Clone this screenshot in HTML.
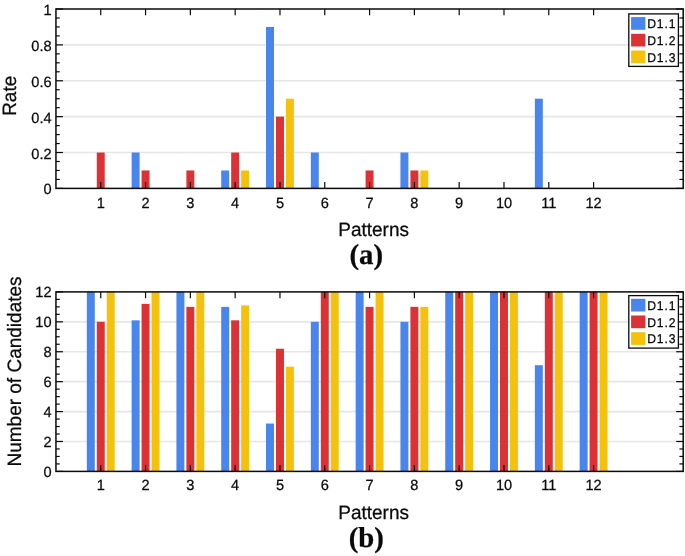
<!DOCTYPE html>
<html><head><meta charset="utf-8"><title>chart</title>
<style>
html,body{margin:0;padding:0;background:#fff;}
body{width:685px;height:556px;overflow:hidden;font-family:"Liberation Sans",sans-serif;}
svg{display:block;filter:blur(0.3px);}
svg text{font-family:"Liberation Sans",sans-serif;fill:#0a0a0a;stroke:#0a0a0a;stroke-width:0.25px;text-rendering:geometricPrecision;}
svg text.sf{font-family:"Liberation Serif",serif;}
</style></head><body>
<svg width="685" height="556" viewBox="0 0 685 556">
<rect width="685" height="556" fill="#fff"/>
<line x1="55.95" x2="683.2" y1="152.52" y2="152.52" stroke="#e6e6e6" stroke-width="1.7"/>
<line x1="55.95" x2="683.2" y1="116.64" y2="116.64" stroke="#e6e6e6" stroke-width="1.7"/>
<line x1="55.95" x2="683.2" y1="80.76" y2="80.76" stroke="#e6e6e6" stroke-width="1.7"/>
<line x1="55.95" x2="683.2" y1="44.88" y2="44.88" stroke="#e6e6e6" stroke-width="1.7"/>
<rect x="96.77" y="152.52" width="7.97" height="35.88" fill="#db3236"/>
<rect x="131.62" y="152.52" width="7.97" height="35.88" fill="#4885ed"/>
<rect x="141.57" y="170.46" width="7.97" height="17.94" fill="#db3236"/>
<rect x="186.38" y="170.46" width="7.97" height="17.94" fill="#db3236"/>
<rect x="221.23" y="170.46" width="7.97" height="17.94" fill="#4885ed"/>
<rect x="231.18" y="152.52" width="7.97" height="35.88" fill="#db3236"/>
<rect x="241.14" y="170.46" width="7.97" height="17.94" fill="#f4c20d"/>
<rect x="266.03" y="26.94" width="7.97" height="161.46" fill="#4885ed"/>
<rect x="275.99" y="116.64" width="7.97" height="71.76" fill="#db3236"/>
<rect x="285.94" y="98.7" width="7.97" height="89.7" fill="#f4c20d"/>
<rect x="310.83" y="152.52" width="7.97" height="35.88" fill="#4885ed"/>
<rect x="365.59" y="170.46" width="7.97" height="17.94" fill="#db3236"/>
<rect x="400.44" y="152.52" width="7.97" height="35.88" fill="#4885ed"/>
<rect x="410.4" y="170.46" width="7.97" height="17.94" fill="#db3236"/>
<rect x="420.35" y="170.46" width="7.97" height="17.94" fill="#f4c20d"/>
<rect x="534.85" y="98.7" width="7.97" height="89.7" fill="#4885ed"/>
<rect x="55.95" y="9" width="627.25" height="179.4" fill="none" stroke="#0a0a0a" stroke-width="1.5"/>
<line x1="100.75" x2="100.75" y1="188.4" y2="182.1" stroke="#0a0a0a" stroke-width="1.2"/>
<line x1="100.75" x2="100.75" y1="9" y2="15.3" stroke="#0a0a0a" stroke-width="1.2"/>
<text transform="translate(100.75,207.7) rotate(0.02) scale(1,1.015)" font-size="14.6" text-anchor="middle">1</text>
<line x1="145.56" x2="145.56" y1="188.4" y2="182.1" stroke="#0a0a0a" stroke-width="1.2"/>
<line x1="145.56" x2="145.56" y1="9" y2="15.3" stroke="#0a0a0a" stroke-width="1.2"/>
<text transform="translate(145.56,207.7) rotate(0.02) scale(1,1.015)" font-size="14.6" text-anchor="middle">2</text>
<line x1="190.36" x2="190.36" y1="188.4" y2="182.1" stroke="#0a0a0a" stroke-width="1.2"/>
<line x1="190.36" x2="190.36" y1="9" y2="15.3" stroke="#0a0a0a" stroke-width="1.2"/>
<text transform="translate(190.36,207.7) rotate(0.02) scale(1,1.015)" font-size="14.6" text-anchor="middle">3</text>
<line x1="235.16" x2="235.16" y1="188.4" y2="182.1" stroke="#0a0a0a" stroke-width="1.2"/>
<line x1="235.16" x2="235.16" y1="9" y2="15.3" stroke="#0a0a0a" stroke-width="1.2"/>
<text transform="translate(235.16,207.7) rotate(0.02) scale(1,1.015)" font-size="14.6" text-anchor="middle">4</text>
<line x1="279.97" x2="279.97" y1="188.4" y2="182.1" stroke="#0a0a0a" stroke-width="1.2"/>
<line x1="279.97" x2="279.97" y1="9" y2="15.3" stroke="#0a0a0a" stroke-width="1.2"/>
<text transform="translate(279.97,207.7) rotate(0.02) scale(1,1.015)" font-size="14.6" text-anchor="middle">5</text>
<line x1="324.77" x2="324.77" y1="188.4" y2="182.1" stroke="#0a0a0a" stroke-width="1.2"/>
<line x1="324.77" x2="324.77" y1="9" y2="15.3" stroke="#0a0a0a" stroke-width="1.2"/>
<text transform="translate(324.77,207.7) rotate(0.02) scale(1,1.015)" font-size="14.6" text-anchor="middle">6</text>
<line x1="369.57" x2="369.57" y1="188.4" y2="182.1" stroke="#0a0a0a" stroke-width="1.2"/>
<line x1="369.57" x2="369.57" y1="9" y2="15.3" stroke="#0a0a0a" stroke-width="1.2"/>
<text transform="translate(369.57,207.7) rotate(0.02) scale(1,1.015)" font-size="14.6" text-anchor="middle">7</text>
<line x1="414.38" x2="414.38" y1="188.4" y2="182.1" stroke="#0a0a0a" stroke-width="1.2"/>
<line x1="414.38" x2="414.38" y1="9" y2="15.3" stroke="#0a0a0a" stroke-width="1.2"/>
<text transform="translate(414.38,207.7) rotate(0.02) scale(1,1.015)" font-size="14.6" text-anchor="middle">8</text>
<line x1="459.18" x2="459.18" y1="188.4" y2="182.1" stroke="#0a0a0a" stroke-width="1.2"/>
<line x1="459.18" x2="459.18" y1="9" y2="15.3" stroke="#0a0a0a" stroke-width="1.2"/>
<text transform="translate(459.18,207.7) rotate(0.02) scale(1,1.015)" font-size="14.6" text-anchor="middle">9</text>
<line x1="503.99" x2="503.99" y1="188.4" y2="182.1" stroke="#0a0a0a" stroke-width="1.2"/>
<line x1="503.99" x2="503.99" y1="9" y2="15.3" stroke="#0a0a0a" stroke-width="1.2"/>
<text transform="translate(503.99,207.7) rotate(0.02) scale(1,1.015)" font-size="14.6" text-anchor="middle">10</text>
<line x1="548.79" x2="548.79" y1="188.4" y2="182.1" stroke="#0a0a0a" stroke-width="1.2"/>
<line x1="548.79" x2="548.79" y1="9" y2="15.3" stroke="#0a0a0a" stroke-width="1.2"/>
<text transform="translate(548.79,207.7) rotate(0.02) scale(1,1.015)" font-size="14.6" text-anchor="middle">11</text>
<line x1="593.59" x2="593.59" y1="188.4" y2="182.1" stroke="#0a0a0a" stroke-width="1.2"/>
<line x1="593.59" x2="593.59" y1="9" y2="15.3" stroke="#0a0a0a" stroke-width="1.2"/>
<text transform="translate(593.59,207.7) rotate(0.02) scale(1,1.015)" font-size="14.6" text-anchor="middle">12</text>
<line x1="55.95" x2="62.95" y1="188.4" y2="188.4" stroke="#0a0a0a" stroke-width="1.2"/>
<line x1="683.2" x2="676.2" y1="188.4" y2="188.4" stroke="#0a0a0a" stroke-width="1.2"/>
<line x1="55.95" x2="59.75" y1="179.43" y2="179.43" stroke="#0a0a0a" stroke-width="1.2"/>
<line x1="683.2" x2="679.4" y1="179.43" y2="179.43" stroke="#0a0a0a" stroke-width="1.2"/>
<line x1="55.95" x2="59.75" y1="170.46" y2="170.46" stroke="#0a0a0a" stroke-width="1.2"/>
<line x1="683.2" x2="679.4" y1="170.46" y2="170.46" stroke="#0a0a0a" stroke-width="1.2"/>
<line x1="55.95" x2="59.75" y1="161.49" y2="161.49" stroke="#0a0a0a" stroke-width="1.2"/>
<line x1="683.2" x2="679.4" y1="161.49" y2="161.49" stroke="#0a0a0a" stroke-width="1.2"/>
<line x1="55.95" x2="62.95" y1="152.52" y2="152.52" stroke="#0a0a0a" stroke-width="1.2"/>
<line x1="683.2" x2="676.2" y1="152.52" y2="152.52" stroke="#0a0a0a" stroke-width="1.2"/>
<line x1="55.95" x2="59.75" y1="143.55" y2="143.55" stroke="#0a0a0a" stroke-width="1.2"/>
<line x1="683.2" x2="679.4" y1="143.55" y2="143.55" stroke="#0a0a0a" stroke-width="1.2"/>
<line x1="55.95" x2="59.75" y1="134.58" y2="134.58" stroke="#0a0a0a" stroke-width="1.2"/>
<line x1="683.2" x2="679.4" y1="134.58" y2="134.58" stroke="#0a0a0a" stroke-width="1.2"/>
<line x1="55.95" x2="59.75" y1="125.61" y2="125.61" stroke="#0a0a0a" stroke-width="1.2"/>
<line x1="683.2" x2="679.4" y1="125.61" y2="125.61" stroke="#0a0a0a" stroke-width="1.2"/>
<line x1="55.95" x2="62.95" y1="116.64" y2="116.64" stroke="#0a0a0a" stroke-width="1.2"/>
<line x1="683.2" x2="676.2" y1="116.64" y2="116.64" stroke="#0a0a0a" stroke-width="1.2"/>
<line x1="55.95" x2="59.75" y1="107.67" y2="107.67" stroke="#0a0a0a" stroke-width="1.2"/>
<line x1="683.2" x2="679.4" y1="107.67" y2="107.67" stroke="#0a0a0a" stroke-width="1.2"/>
<line x1="55.95" x2="59.75" y1="98.7" y2="98.7" stroke="#0a0a0a" stroke-width="1.2"/>
<line x1="683.2" x2="679.4" y1="98.7" y2="98.7" stroke="#0a0a0a" stroke-width="1.2"/>
<line x1="55.95" x2="59.75" y1="89.73" y2="89.73" stroke="#0a0a0a" stroke-width="1.2"/>
<line x1="683.2" x2="679.4" y1="89.73" y2="89.73" stroke="#0a0a0a" stroke-width="1.2"/>
<line x1="55.95" x2="62.95" y1="80.76" y2="80.76" stroke="#0a0a0a" stroke-width="1.2"/>
<line x1="683.2" x2="676.2" y1="80.76" y2="80.76" stroke="#0a0a0a" stroke-width="1.2"/>
<line x1="55.95" x2="59.75" y1="71.79" y2="71.79" stroke="#0a0a0a" stroke-width="1.2"/>
<line x1="683.2" x2="679.4" y1="71.79" y2="71.79" stroke="#0a0a0a" stroke-width="1.2"/>
<line x1="55.95" x2="59.75" y1="62.82" y2="62.82" stroke="#0a0a0a" stroke-width="1.2"/>
<line x1="683.2" x2="679.4" y1="62.82" y2="62.82" stroke="#0a0a0a" stroke-width="1.2"/>
<line x1="55.95" x2="59.75" y1="53.85" y2="53.85" stroke="#0a0a0a" stroke-width="1.2"/>
<line x1="683.2" x2="679.4" y1="53.85" y2="53.85" stroke="#0a0a0a" stroke-width="1.2"/>
<line x1="55.95" x2="62.95" y1="44.88" y2="44.88" stroke="#0a0a0a" stroke-width="1.2"/>
<line x1="683.2" x2="676.2" y1="44.88" y2="44.88" stroke="#0a0a0a" stroke-width="1.2"/>
<line x1="55.95" x2="59.75" y1="35.91" y2="35.91" stroke="#0a0a0a" stroke-width="1.2"/>
<line x1="683.2" x2="679.4" y1="35.91" y2="35.91" stroke="#0a0a0a" stroke-width="1.2"/>
<line x1="55.95" x2="59.75" y1="26.94" y2="26.94" stroke="#0a0a0a" stroke-width="1.2"/>
<line x1="683.2" x2="679.4" y1="26.94" y2="26.94" stroke="#0a0a0a" stroke-width="1.2"/>
<line x1="55.95" x2="59.75" y1="17.97" y2="17.97" stroke="#0a0a0a" stroke-width="1.2"/>
<line x1="683.2" x2="679.4" y1="17.97" y2="17.97" stroke="#0a0a0a" stroke-width="1.2"/>
<line x1="55.95" x2="62.95" y1="9" y2="9" stroke="#0a0a0a" stroke-width="1.2"/>
<line x1="683.2" x2="676.2" y1="9" y2="9" stroke="#0a0a0a" stroke-width="1.2"/>
<text transform="translate(51.6,194.45) rotate(0.02) scale(1,1.015)" font-size="14.6" text-anchor="end">0</text>
<text transform="translate(51.6,158.57) rotate(0.02) scale(1,1.015)" font-size="14.6" text-anchor="end">0.2</text>
<text transform="translate(51.6,122.69) rotate(0.02) scale(1,1.015)" font-size="14.6" text-anchor="end">0.4</text>
<text transform="translate(51.6,86.81) rotate(0.02) scale(1,1.015)" font-size="14.6" text-anchor="end">0.6</text>
<text transform="translate(51.6,50.93) rotate(0.02) scale(1,1.015)" font-size="14.6" text-anchor="end">0.8</text>
<text transform="translate(51.6,15.05) rotate(0.02) scale(1,1.015)" font-size="14.6" text-anchor="end">1</text>
<text transform="translate(16.1,95.8) rotate(-90) scale(1,1.02)" font-size="19" text-anchor="middle">Rate</text>
<text transform="translate(373.6,235.7) rotate(0.02) scale(1,1.02)" font-size="19" text-anchor="middle">Patterns</text>
<text transform="translate(366.3,263.6) rotate(0.02)" font-size="28.8" font-weight="bold" class="sf" text-anchor="middle">(a)</text>
<rect x="628.8" y="13.9" width="49.6" height="52.5" fill="#fff" stroke="#0a0a0a" stroke-width="1.3"/>
<rect x="631.1" y="17.1" width="14.3" height="12.7" fill="#4885ed"/>
<text transform="translate(647.2,28.2) rotate(0.02) scale(1,1.045)" font-size="12.2" letter-spacing="0.85">D1.1</text>
<rect x="631.1" y="33.8" width="14.3" height="12.7" fill="#db3236"/>
<text transform="translate(647.2,44.9) rotate(0.02) scale(1,1.045)" font-size="12.2" letter-spacing="0.85">D1.2</text>
<rect x="631.1" y="50.5" width="14.3" height="12.7" fill="#f4c20d"/>
<text transform="translate(647.2,61.6) rotate(0.02) scale(1,1.045)" font-size="12.2" letter-spacing="0.85">D1.3</text>
<line x1="55.95" x2="683.2" y1="441.48" y2="441.48" stroke="#e6e6e6" stroke-width="1.7"/>
<line x1="55.95" x2="683.2" y1="411.57" y2="411.57" stroke="#e6e6e6" stroke-width="1.7"/>
<line x1="55.95" x2="683.2" y1="381.65" y2="381.65" stroke="#e6e6e6" stroke-width="1.7"/>
<line x1="55.95" x2="683.2" y1="351.73" y2="351.73" stroke="#e6e6e6" stroke-width="1.7"/>
<line x1="55.95" x2="683.2" y1="321.82" y2="321.82" stroke="#e6e6e6" stroke-width="1.7"/>
<rect x="86.81" y="291.9" width="7.97" height="179.5" fill="#4885ed"/>
<rect x="96.77" y="321.82" width="7.97" height="149.58" fill="#db3236"/>
<rect x="106.73" y="291.9" width="7.97" height="179.5" fill="#f4c20d"/>
<rect x="131.62" y="320.32" width="7.97" height="151.08" fill="#4885ed"/>
<rect x="141.57" y="303.87" width="7.97" height="167.53" fill="#db3236"/>
<rect x="151.53" y="291.9" width="7.97" height="179.5" fill="#f4c20d"/>
<rect x="176.42" y="291.9" width="7.97" height="179.5" fill="#4885ed"/>
<rect x="186.38" y="306.86" width="7.97" height="164.54" fill="#db3236"/>
<rect x="196.33" y="291.9" width="7.97" height="179.5" fill="#f4c20d"/>
<rect x="221.23" y="306.86" width="7.97" height="164.54" fill="#4885ed"/>
<rect x="231.18" y="320.32" width="7.97" height="151.08" fill="#db3236"/>
<rect x="241.14" y="305.36" width="7.97" height="166.04" fill="#f4c20d"/>
<rect x="266.03" y="423.53" width="7.97" height="47.87" fill="#4885ed"/>
<rect x="275.99" y="348.74" width="7.97" height="122.66" fill="#db3236"/>
<rect x="285.94" y="366.69" width="7.97" height="104.71" fill="#f4c20d"/>
<rect x="310.83" y="321.82" width="7.97" height="149.58" fill="#4885ed"/>
<rect x="320.79" y="291.9" width="7.97" height="179.5" fill="#db3236"/>
<rect x="330.75" y="291.9" width="7.97" height="179.5" fill="#f4c20d"/>
<rect x="355.64" y="291.9" width="7.97" height="179.5" fill="#4885ed"/>
<rect x="365.59" y="306.86" width="7.97" height="164.54" fill="#db3236"/>
<rect x="375.55" y="291.9" width="7.97" height="179.5" fill="#f4c20d"/>
<rect x="400.44" y="321.82" width="7.97" height="149.58" fill="#4885ed"/>
<rect x="410.4" y="306.86" width="7.97" height="164.54" fill="#db3236"/>
<rect x="420.35" y="306.86" width="7.97" height="164.54" fill="#f4c20d"/>
<rect x="445.24" y="291.9" width="7.97" height="179.5" fill="#4885ed"/>
<rect x="455.2" y="291.9" width="7.97" height="179.5" fill="#db3236"/>
<rect x="465.16" y="291.9" width="7.97" height="179.5" fill="#f4c20d"/>
<rect x="490.05" y="291.9" width="7.97" height="179.5" fill="#4885ed"/>
<rect x="500" y="291.9" width="7.97" height="179.5" fill="#db3236"/>
<rect x="509.96" y="291.9" width="7.97" height="179.5" fill="#f4c20d"/>
<rect x="534.85" y="365.2" width="7.97" height="106.2" fill="#4885ed"/>
<rect x="544.81" y="291.9" width="7.97" height="179.5" fill="#db3236"/>
<rect x="554.76" y="291.9" width="7.97" height="179.5" fill="#f4c20d"/>
<rect x="579.65" y="291.9" width="7.97" height="179.5" fill="#4885ed"/>
<rect x="589.61" y="291.9" width="7.97" height="179.5" fill="#db3236"/>
<rect x="599.57" y="291.9" width="7.97" height="179.5" fill="#f4c20d"/>
<rect x="55.95" y="291.9" width="627.25" height="179.5" fill="none" stroke="#0a0a0a" stroke-width="1.5"/>
<line x1="100.75" x2="100.75" y1="471.4" y2="465.1" stroke="#0a0a0a" stroke-width="1.2"/>
<line x1="100.75" x2="100.75" y1="291.9" y2="298.2" stroke="#0a0a0a" stroke-width="1.2"/>
<text transform="translate(100.75,489.9) rotate(0.02) scale(1,1.015)" font-size="14.6" text-anchor="middle">1</text>
<line x1="145.56" x2="145.56" y1="471.4" y2="465.1" stroke="#0a0a0a" stroke-width="1.2"/>
<line x1="145.56" x2="145.56" y1="291.9" y2="298.2" stroke="#0a0a0a" stroke-width="1.2"/>
<text transform="translate(145.56,489.9) rotate(0.02) scale(1,1.015)" font-size="14.6" text-anchor="middle">2</text>
<line x1="190.36" x2="190.36" y1="471.4" y2="465.1" stroke="#0a0a0a" stroke-width="1.2"/>
<line x1="190.36" x2="190.36" y1="291.9" y2="298.2" stroke="#0a0a0a" stroke-width="1.2"/>
<text transform="translate(190.36,489.9) rotate(0.02) scale(1,1.015)" font-size="14.6" text-anchor="middle">3</text>
<line x1="235.16" x2="235.16" y1="471.4" y2="465.1" stroke="#0a0a0a" stroke-width="1.2"/>
<line x1="235.16" x2="235.16" y1="291.9" y2="298.2" stroke="#0a0a0a" stroke-width="1.2"/>
<text transform="translate(235.16,489.9) rotate(0.02) scale(1,1.015)" font-size="14.6" text-anchor="middle">4</text>
<line x1="279.97" x2="279.97" y1="471.4" y2="465.1" stroke="#0a0a0a" stroke-width="1.2"/>
<line x1="279.97" x2="279.97" y1="291.9" y2="298.2" stroke="#0a0a0a" stroke-width="1.2"/>
<text transform="translate(279.97,489.9) rotate(0.02) scale(1,1.015)" font-size="14.6" text-anchor="middle">5</text>
<line x1="324.77" x2="324.77" y1="471.4" y2="465.1" stroke="#0a0a0a" stroke-width="1.2"/>
<line x1="324.77" x2="324.77" y1="291.9" y2="298.2" stroke="#0a0a0a" stroke-width="1.2"/>
<text transform="translate(324.77,489.9) rotate(0.02) scale(1,1.015)" font-size="14.6" text-anchor="middle">6</text>
<line x1="369.57" x2="369.57" y1="471.4" y2="465.1" stroke="#0a0a0a" stroke-width="1.2"/>
<line x1="369.57" x2="369.57" y1="291.9" y2="298.2" stroke="#0a0a0a" stroke-width="1.2"/>
<text transform="translate(369.57,489.9) rotate(0.02) scale(1,1.015)" font-size="14.6" text-anchor="middle">7</text>
<line x1="414.38" x2="414.38" y1="471.4" y2="465.1" stroke="#0a0a0a" stroke-width="1.2"/>
<line x1="414.38" x2="414.38" y1="291.9" y2="298.2" stroke="#0a0a0a" stroke-width="1.2"/>
<text transform="translate(414.38,489.9) rotate(0.02) scale(1,1.015)" font-size="14.6" text-anchor="middle">8</text>
<line x1="459.18" x2="459.18" y1="471.4" y2="465.1" stroke="#0a0a0a" stroke-width="1.2"/>
<line x1="459.18" x2="459.18" y1="291.9" y2="298.2" stroke="#0a0a0a" stroke-width="1.2"/>
<text transform="translate(459.18,489.9) rotate(0.02) scale(1,1.015)" font-size="14.6" text-anchor="middle">9</text>
<line x1="503.99" x2="503.99" y1="471.4" y2="465.1" stroke="#0a0a0a" stroke-width="1.2"/>
<line x1="503.99" x2="503.99" y1="291.9" y2="298.2" stroke="#0a0a0a" stroke-width="1.2"/>
<text transform="translate(503.99,489.9) rotate(0.02) scale(1,1.015)" font-size="14.6" text-anchor="middle">10</text>
<line x1="548.79" x2="548.79" y1="471.4" y2="465.1" stroke="#0a0a0a" stroke-width="1.2"/>
<line x1="548.79" x2="548.79" y1="291.9" y2="298.2" stroke="#0a0a0a" stroke-width="1.2"/>
<text transform="translate(548.79,489.9) rotate(0.02) scale(1,1.015)" font-size="14.6" text-anchor="middle">11</text>
<line x1="593.59" x2="593.59" y1="471.4" y2="465.1" stroke="#0a0a0a" stroke-width="1.2"/>
<line x1="593.59" x2="593.59" y1="291.9" y2="298.2" stroke="#0a0a0a" stroke-width="1.2"/>
<text transform="translate(593.59,489.9) rotate(0.02) scale(1,1.015)" font-size="14.6" text-anchor="middle">12</text>
<line x1="55.95" x2="62.95" y1="471.4" y2="471.4" stroke="#0a0a0a" stroke-width="1.2"/>
<line x1="683.2" x2="676.2" y1="471.4" y2="471.4" stroke="#0a0a0a" stroke-width="1.2"/>
<line x1="55.95" x2="59.75" y1="463.92" y2="463.92" stroke="#0a0a0a" stroke-width="1.2"/>
<line x1="683.2" x2="679.4" y1="463.92" y2="463.92" stroke="#0a0a0a" stroke-width="1.2"/>
<line x1="55.95" x2="59.75" y1="456.44" y2="456.44" stroke="#0a0a0a" stroke-width="1.2"/>
<line x1="683.2" x2="679.4" y1="456.44" y2="456.44" stroke="#0a0a0a" stroke-width="1.2"/>
<line x1="55.95" x2="59.75" y1="448.96" y2="448.96" stroke="#0a0a0a" stroke-width="1.2"/>
<line x1="683.2" x2="679.4" y1="448.96" y2="448.96" stroke="#0a0a0a" stroke-width="1.2"/>
<line x1="55.95" x2="62.95" y1="441.48" y2="441.48" stroke="#0a0a0a" stroke-width="1.2"/>
<line x1="683.2" x2="676.2" y1="441.48" y2="441.48" stroke="#0a0a0a" stroke-width="1.2"/>
<line x1="55.95" x2="59.75" y1="434" y2="434" stroke="#0a0a0a" stroke-width="1.2"/>
<line x1="683.2" x2="679.4" y1="434" y2="434" stroke="#0a0a0a" stroke-width="1.2"/>
<line x1="55.95" x2="59.75" y1="426.52" y2="426.52" stroke="#0a0a0a" stroke-width="1.2"/>
<line x1="683.2" x2="679.4" y1="426.52" y2="426.52" stroke="#0a0a0a" stroke-width="1.2"/>
<line x1="55.95" x2="59.75" y1="419.05" y2="419.05" stroke="#0a0a0a" stroke-width="1.2"/>
<line x1="683.2" x2="679.4" y1="419.05" y2="419.05" stroke="#0a0a0a" stroke-width="1.2"/>
<line x1="55.95" x2="62.95" y1="411.57" y2="411.57" stroke="#0a0a0a" stroke-width="1.2"/>
<line x1="683.2" x2="676.2" y1="411.57" y2="411.57" stroke="#0a0a0a" stroke-width="1.2"/>
<line x1="55.95" x2="59.75" y1="404.09" y2="404.09" stroke="#0a0a0a" stroke-width="1.2"/>
<line x1="683.2" x2="679.4" y1="404.09" y2="404.09" stroke="#0a0a0a" stroke-width="1.2"/>
<line x1="55.95" x2="59.75" y1="396.61" y2="396.61" stroke="#0a0a0a" stroke-width="1.2"/>
<line x1="683.2" x2="679.4" y1="396.61" y2="396.61" stroke="#0a0a0a" stroke-width="1.2"/>
<line x1="55.95" x2="59.75" y1="389.13" y2="389.13" stroke="#0a0a0a" stroke-width="1.2"/>
<line x1="683.2" x2="679.4" y1="389.13" y2="389.13" stroke="#0a0a0a" stroke-width="1.2"/>
<line x1="55.95" x2="62.95" y1="381.65" y2="381.65" stroke="#0a0a0a" stroke-width="1.2"/>
<line x1="683.2" x2="676.2" y1="381.65" y2="381.65" stroke="#0a0a0a" stroke-width="1.2"/>
<line x1="55.95" x2="59.75" y1="374.17" y2="374.17" stroke="#0a0a0a" stroke-width="1.2"/>
<line x1="683.2" x2="679.4" y1="374.17" y2="374.17" stroke="#0a0a0a" stroke-width="1.2"/>
<line x1="55.95" x2="59.75" y1="366.69" y2="366.69" stroke="#0a0a0a" stroke-width="1.2"/>
<line x1="683.2" x2="679.4" y1="366.69" y2="366.69" stroke="#0a0a0a" stroke-width="1.2"/>
<line x1="55.95" x2="59.75" y1="359.21" y2="359.21" stroke="#0a0a0a" stroke-width="1.2"/>
<line x1="683.2" x2="679.4" y1="359.21" y2="359.21" stroke="#0a0a0a" stroke-width="1.2"/>
<line x1="55.95" x2="62.95" y1="351.73" y2="351.73" stroke="#0a0a0a" stroke-width="1.2"/>
<line x1="683.2" x2="676.2" y1="351.73" y2="351.73" stroke="#0a0a0a" stroke-width="1.2"/>
<line x1="55.95" x2="59.75" y1="344.25" y2="344.25" stroke="#0a0a0a" stroke-width="1.2"/>
<line x1="683.2" x2="679.4" y1="344.25" y2="344.25" stroke="#0a0a0a" stroke-width="1.2"/>
<line x1="55.95" x2="59.75" y1="336.77" y2="336.77" stroke="#0a0a0a" stroke-width="1.2"/>
<line x1="683.2" x2="679.4" y1="336.77" y2="336.77" stroke="#0a0a0a" stroke-width="1.2"/>
<line x1="55.95" x2="59.75" y1="329.3" y2="329.3" stroke="#0a0a0a" stroke-width="1.2"/>
<line x1="683.2" x2="679.4" y1="329.3" y2="329.3" stroke="#0a0a0a" stroke-width="1.2"/>
<line x1="55.95" x2="62.95" y1="321.82" y2="321.82" stroke="#0a0a0a" stroke-width="1.2"/>
<line x1="683.2" x2="676.2" y1="321.82" y2="321.82" stroke="#0a0a0a" stroke-width="1.2"/>
<line x1="55.95" x2="59.75" y1="314.34" y2="314.34" stroke="#0a0a0a" stroke-width="1.2"/>
<line x1="683.2" x2="679.4" y1="314.34" y2="314.34" stroke="#0a0a0a" stroke-width="1.2"/>
<line x1="55.95" x2="59.75" y1="306.86" y2="306.86" stroke="#0a0a0a" stroke-width="1.2"/>
<line x1="683.2" x2="679.4" y1="306.86" y2="306.86" stroke="#0a0a0a" stroke-width="1.2"/>
<line x1="55.95" x2="59.75" y1="299.38" y2="299.38" stroke="#0a0a0a" stroke-width="1.2"/>
<line x1="683.2" x2="679.4" y1="299.38" y2="299.38" stroke="#0a0a0a" stroke-width="1.2"/>
<line x1="55.95" x2="62.95" y1="291.9" y2="291.9" stroke="#0a0a0a" stroke-width="1.2"/>
<line x1="683.2" x2="676.2" y1="291.9" y2="291.9" stroke="#0a0a0a" stroke-width="1.2"/>
<text transform="translate(51.6,476.6) rotate(0.02) scale(1,1.015)" font-size="14.6" text-anchor="end">0</text>
<text transform="translate(51.6,446.68) rotate(0.02) scale(1,1.015)" font-size="14.6" text-anchor="end">2</text>
<text transform="translate(51.6,416.77) rotate(0.02) scale(1,1.015)" font-size="14.6" text-anchor="end">4</text>
<text transform="translate(51.6,386.85) rotate(0.02) scale(1,1.015)" font-size="14.6" text-anchor="end">6</text>
<text transform="translate(51.6,356.93) rotate(0.02) scale(1,1.015)" font-size="14.6" text-anchor="end">8</text>
<text transform="translate(51.6,327.02) rotate(0.02) scale(1,1.015)" font-size="14.6" text-anchor="end">10</text>
<text transform="translate(51.6,297.1) rotate(0.02) scale(1,1.015)" font-size="14.6" text-anchor="end">12</text>
<text transform="translate(21.4,371.5) rotate(-90) scale(1,1.02)" font-size="19" text-anchor="middle">Number of Candidates</text>
<text transform="translate(373.6,518.7) rotate(0.02) scale(1,1.02)" font-size="19" text-anchor="middle">Patterns</text>
<text transform="translate(366.3,546.6) rotate(0.02)" font-size="28.8" font-weight="bold" class="sf" text-anchor="middle">(b)</text>
<rect x="628.8" y="295.6" width="49.6" height="52.5" fill="#fff" stroke="#0a0a0a" stroke-width="1.3"/>
<rect x="631.1" y="298.8" width="14.3" height="12.7" fill="#4885ed"/>
<text transform="translate(647.2,309.9) rotate(0.02) scale(1,1.045)" font-size="12.2" letter-spacing="0.85">D1.1</text>
<rect x="631.1" y="315.5" width="14.3" height="12.7" fill="#db3236"/>
<text transform="translate(647.2,326.6) rotate(0.02) scale(1,1.045)" font-size="12.2" letter-spacing="0.85">D1.2</text>
<rect x="631.1" y="332.2" width="14.3" height="12.7" fill="#f4c20d"/>
<text transform="translate(647.2,343.3) rotate(0.02) scale(1,1.045)" font-size="12.2" letter-spacing="0.85">D1.3</text>
</svg>
</body></html>
